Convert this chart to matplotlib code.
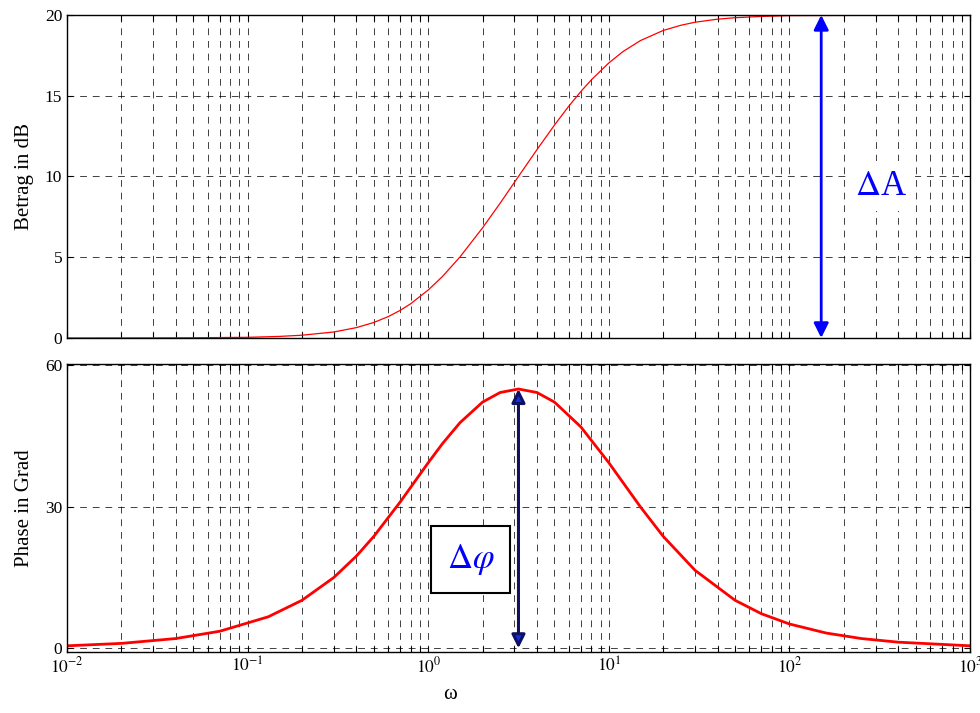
import matplotlib
matplotlib.use("Agg")
import matplotlib.pyplot as plt
from matplotlib.ticker import LogLocator, FixedLocator, NullFormatter

plt.rcParams['font.family'] = ['Liberation Serif', 'DejaVu Serif']
plt.rcParams['mathtext.fontset'] = 'stix'

# ---------------- DATA ----------------
omega_mag = [0.01, 0.03, 0.05, 0.1, 0.15, 0.2, 0.3, 0.4, 0.5, 0.6, 0.7, 0.8,
             1.0, 1.2, 1.5, 2.0, 2.5, 3.16, 4.0, 5.0, 6.0, 7.0, 8.0, 10.0,
             12.0, 15.0, 20.0, 25.0, 30.0, 40.0, 50.0, 70.0, 100.0, 1000.0]
betrag_db = [0.0, 0.004, 0.011, 0.04, 0.096, 0.17, 0.37, 0.64, 0.96, 1.32,
             1.71, 2.12, 2.97, 3.81, 5.02, 6.82, 8.34, 10.0, 11.66, 13.18,
             14.35, 15.26, 15.98, 17.03, 17.74, 18.42, 19.04, 19.36, 19.55,
             19.74, 19.83, 19.91, 19.96, 20.0]

omega_ph = [0.01, 0.02, 0.04, 0.07, 0.13, 0.2, 0.3, 0.4, 0.5, 0.7, 1.0, 1.2,
            1.5, 2.0, 2.5, 3.16, 4.0, 5.0, 7.0, 10.0, 15.0, 20.0, 30.0, 50.0,
            70.0, 100.0, 160.0, 250.0, 400.0, 1000.0]
phase_grad = [0.52, 1.03, 2.06, 3.6, 6.66, 10.16, 14.98, 19.51, 23.7, 30.99,
              39.29, 43.35, 47.78, 52.13, 54.16, 54.9, 54.16, 52.13, 46.88,
              39.29, 29.88, 23.71, 16.52, 10.16, 7.31, 5.14, 3.22, 2.06, 1.29,
              0.52]

x_ticks = [1e-2, 1e-1, 1e0, 1e1, 1e2, 1e3]
x_labels = [r'$10^{-2}$', r'$10^{-1}$', r'$10^{0}$', r'$10^{1}$', r'$10^{2}$', r'$10^{3}$']
mag_ticks = [0, 5, 10, 15, 20]
ph_ticks = [0, 30, 60]

delta_a_omega = 150.0  # position of the magnitude arrow

# ---------------- FIGURE ----------------
fig = plt.figure(figsize=(9.8, 7.13), dpi=100)
ax1 = fig.add_axes([0.0684, 0.526, 0.9214, 0.453])
ax2 = fig.add_axes([0.0684, 0.0855, 0.9214, 0.404])

grid_kw = dict(color='black', linestyle=(0, (7, 6)), linewidth=0.7, alpha=0.75)

for ax in (ax1, ax2):
    ax.set_xscale('log')
    ax.set_xlim(1e-2, 1e3)
    ax.xaxis.set_major_locator(FixedLocator(x_ticks))
    ax.xaxis.set_minor_locator(LogLocator(base=10, subs=range(2, 10), numticks=20))
    ax.xaxis.set_minor_formatter(NullFormatter())
    ax.grid(True, which='major', axis='both', **grid_kw)
    ax.grid(True, which='minor', axis='x', **grid_kw)
    ax.tick_params(which='both', direction='in', length=4, width=0.8,
                   top=True, right=True, labelsize=12.5)
    for s in ax.spines.values():
        s.set_linewidth(1.0)

# --- Betrag ---
ax1.plot(omega_mag, betrag_db, color='red', linewidth=0.9)
ax1.set_ylim(0, 20)
ax1.set_yticks(mag_ticks)
ax1.set_xticklabels([])
ax1.set_ylabel('Betrag in dB', fontsize=15, labelpad=8)

ax1.annotate('', xy=(delta_a_omega, max(mag_ticks)), xytext=(delta_a_omega, 0),
             arrowprops=dict(arrowstyle='<|-|>', color='#0000ff', lw=2,
                             mutation_scale=22, shrinkA=0, shrinkB=0))
ax1.text(320, 9.4, r'$\Delta$A', color='#0000ff', fontsize=25, ha='center', va='center',
         bbox=dict(facecolor='white', edgecolor='none', pad=6))

# --- Phase ---
ax2.plot(omega_ph, phase_grad, color='red', linewidth=2)
ax2.set_ylim(-0.8, 60.2)
ax2.set_yticks(ph_ticks)
ax2.set_xticklabels(x_labels)
ax2.set_ylabel('Phase in Grad', fontsize=15, labelpad=8)

peak = phase_grad.index(max(phase_grad))
w_peak = omega_ph[peak]
ax2.annotate('', xy=(w_peak, phase_grad[peak]), xytext=(w_peak, 0),
             arrowprops=dict(arrowstyle='<|-|>', facecolor='#1030e0', edgecolor='#101060',
                             lw=2.2, mutation_scale=20, shrinkA=0, shrinkB=0))
ax2.text(1.72, 18.8, r'$\Delta\varphi$', color='#0000ff', fontsize=25,
         ha='center', va='center',
         bbox=dict(facecolor='white', edgecolor='black', linewidth=1.5,
                   boxstyle='square,pad=0.45'))

fig.text(0.459, 0.012, 'ω', fontsize=15, ha='center', va='bottom')

fig.savefig('out.png', dpi=100)
